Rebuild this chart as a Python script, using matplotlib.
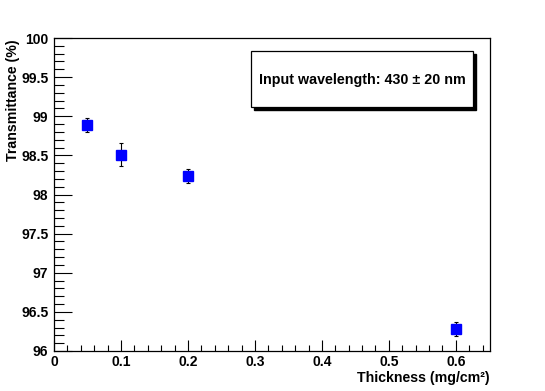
import numpy as np
import matplotlib.pyplot as plt
from matplotlib.patches import Rectangle
from matplotlib.ticker import MultipleLocator, FormatStrFormatter

plt.rcParams['font.family'] = ['Liberation Sans', 'DejaVu Sans']
plt.rcParams['font.weight'] = 'bold'

# Data
thickness = [0.05, 0.1, 0.2, 0.6]
transmittance = [98.89, 98.51, 98.24, 96.28]
err = [0.09, 0.15, 0.087, 0.088]

W, H = 545, 391
fig = plt.figure(figsize=(W / 100, H / 100), dpi=100)
ax = fig.add_axes([54 / W, 1 - 351 / H, (490 - 54) / W, (351 - 38) / H])

ax.errorbar(thickness, transmittance, yerr=err, fmt='s', color='blue',
            markersize=6.5, ecolor='black', elinewidth=0.8, capsize=1.5,
            capthick=0.8)

ax.set_xlim(0, 0.651)
ax.set_ylim(96, 100)

ax.xaxis.set_major_locator(MultipleLocator(0.1))
ax.xaxis.set_minor_locator(MultipleLocator(0.02))
ax.yaxis.set_major_locator(MultipleLocator(0.5))
ax.yaxis.set_minor_locator(MultipleLocator(0.1))
ax.xaxis.set_major_formatter(FormatStrFormatter('%g'))
ax.yaxis.set_major_formatter(FormatStrFormatter('%g'))

ax.tick_params(axis='x', which='major', direction='in', length=8, width=0.8,
               labelsize=10, pad=3)
ax.tick_params(axis='x', which='minor', direction='in', length=4, width=0.8)
ax.tick_params(axis='y', which='major', direction='in', length=13, width=0.8,
               labelsize=10, pad=4)
ax.tick_params(axis='y', which='minor', direction='in', length=7, width=0.8)
for lab in ax.get_xticklabels() + ax.get_yticklabels():
    lab.set_fontweight('bold')
for s in ax.spines.values():
    s.set_linewidth(0.9)

fig.text(490 / W, 1 - 378 / H, 'Thickness (mg/cm²)', ha='right',
         va='center', fontsize=10.2, fontweight='bold')
fig.text(13 / W, 1 - 39 / H, 'Transmittance (%)', ha='center', va='top',
         rotation=90, fontsize=10.2, fontweight='bold')

# Text box with drop shadow
bx0, by0, bx1, by1 = 251, 51, 473, 107
sh = 3
fig.patches.append(Rectangle(((bx0 + sh) / W, 1 - (by1 + sh) / H),
                             (bx1 - bx0) / W, (by1 - by0) / H,
                             transform=fig.transFigure, facecolor='black',
                             edgecolor='black', zorder=5))
fig.patches.append(Rectangle((bx0 / W, 1 - by1 / H), (bx1 - bx0) / W,
                             (by1 - by0) / H, transform=fig.transFigure,
                             facecolor='white', edgecolor='black',
                             linewidth=0.9, zorder=6))
fig.text((bx0 + bx1) / 2 / W, 1 - 80 / H, 'Input wavelength: 430 ± 20 nm',
         ha='center', va='center', fontsize=10.3, fontweight='bold', zorder=7)

fig.savefig('out.png', dpi=100)
